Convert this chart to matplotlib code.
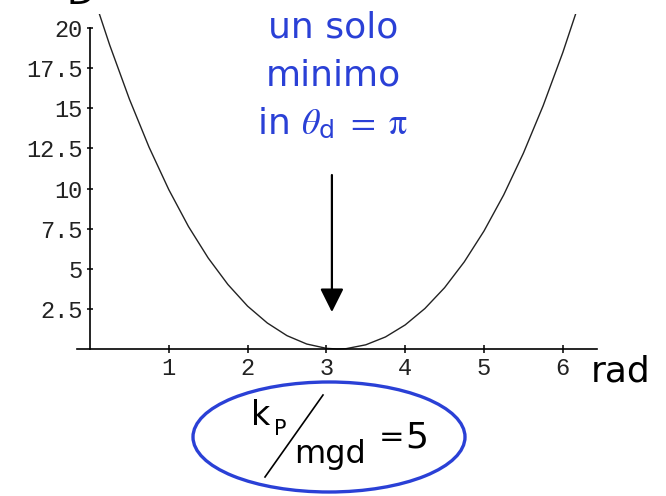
import matplotlib.pyplot as plt
from matplotlib.patches import Ellipse, FancyArrowPatch
from matplotlib.lines import Line2D

plt.rcParams['mathtext.fontset'] = 'stix'

# potential energy U/mgd against the angle, with kP/mgd = 5
theta = [0.05, 0.25, 0.5, 0.75, 1.0, 1.25, 1.5, 1.75, 2.0, 2.25, 2.5, 2.75,
         3.0, 3.14, 3.25, 3.5, 3.75, 4.0, 4.25, 4.5, 4.75, 5.0, 5.25, 5.5,
         5.75, 6.0, 6.25]
energy = [21.9, 18.94, 15.57, 12.57, 9.93, 7.63, 5.67, 4.02, 2.67, 1.62, 0.83,
          0.31, 0.04, 0.0, 0.02, 0.26, 0.75, 1.50, 2.52, 3.82, 5.43, 7.35,
          9.60, 12.20, 15.15, 18.47, 22.16]

x_ticks = [1, 2, 3, 4, 5, 6]
y_ticks = [2.5, 5, 7.5, 10, 12.5, 15, 17.5, 20]
y_labels = ['2.5', '5', '7.5', '10', '12.5', '15', '17.5', '20']

theta_min = 3.07          # where the arrow points
arrow_top, arrow_tip = 10.84, 2.3

blue = '#2a40d6'
W, H = 666, 496


def px(x, y):
    # pixel position -> figure fraction
    return x / W, 1 - y / H


fig = plt.figure(figsize=(W / 100, H / 100), dpi=100)
ax = fig.add_axes([0.1156, 0.2867, 0.7803, 0.6843])

ax.plot(theta, energy, color='#222222', lw=1.0)
ax.set_xlim(-0.165, 6.43)
ax.set_ylim(-0.3, 20.85)

for s in ['top', 'right']:
    ax.spines[s].set_visible(False)
ax.spines['left'].set_position(('data', 0))
ax.spines['bottom'].set_position(('data', 0))
ax.spines['left'].set_bounds(0, 20)
for s in ['left', 'bottom']:
    ax.spines[s].set_linewidth(1.2)

ax.set_xticks(x_ticks)
ax.set_xticklabels([str(t) for t in x_ticks])
ax.set_yticks(y_ticks)
ax.set_yticklabels(y_labels)
ax.tick_params(axis='x', direction='inout', length=6, width=1.1, pad=3)
ax.tick_params(axis='y', direction='inout', length=5, width=1.1, pad=3)
for lab in ax.get_xticklabels() + ax.get_yticklabels():
    lab.set_family('Liberation Mono')
    lab.set_fontsize(17)
    lab.set_color('#222222')

# arrow down to the minimum
arr = FancyArrowPatch((theta_min, arrow_top), (theta_min, arrow_tip),
                      arrowstyle='-|>,head_length=0.4,head_width=0.2',
                      mutation_scale=36, lw=1.6, color='black',
                      shrinkA=0, shrinkB=0, clip_on=False)
ax.add_patch(arr)

# blue caption
fig.text(*px(333, 37), 'un solo', color=blue, fontsize=26,
         ha='center', va='baseline')
fig.text(*px(333, 86), 'minimo', color=blue, fontsize=26,
         ha='center', va='baseline')
fig.text(*px(333, 134), r'in $\theta_{\mathregular{d}}\ =\ \mathrm{\pi}$',
         color=blue, fontsize=26, ha='center', va='baseline')

# axis unit and cut-off label at the top
fig.text(*px(591, 382), 'rad', fontsize=26, ha='left', va='baseline')
fig.text(*px(66, 4), 'D', fontsize=26, ha='left', va='baseline')

# ratio in the blue ellipse
fig.add_artist(Ellipse(px(329, 437), 272 / W, 110 / H, transform=fig.transFigure,
                       fill=False, edgecolor=blue, lw=2.4))
fig.text(*px(251, 425), 'k', fontsize=24, ha='left', va='baseline')
fig.text(*px(274, 435), 'P', fontsize=15, ha='left', va='baseline')
fig.add_artist(Line2D([323 / W, 265 / W], [1 - 395 / H, 1 - 477 / H],
                      transform=fig.transFigure, color='black', lw=1.2))
fig.text(*px(294, 463), 'mgd', fontsize=23, ha='left', va='baseline')
fig.text(*px(379, 446), '=', fontsize=22, ha='left', va='baseline')
fig.text(*px(405, 447), '5', fontsize=26, ha='left', va='baseline')

fig.savefig('out.png', dpi=100)
